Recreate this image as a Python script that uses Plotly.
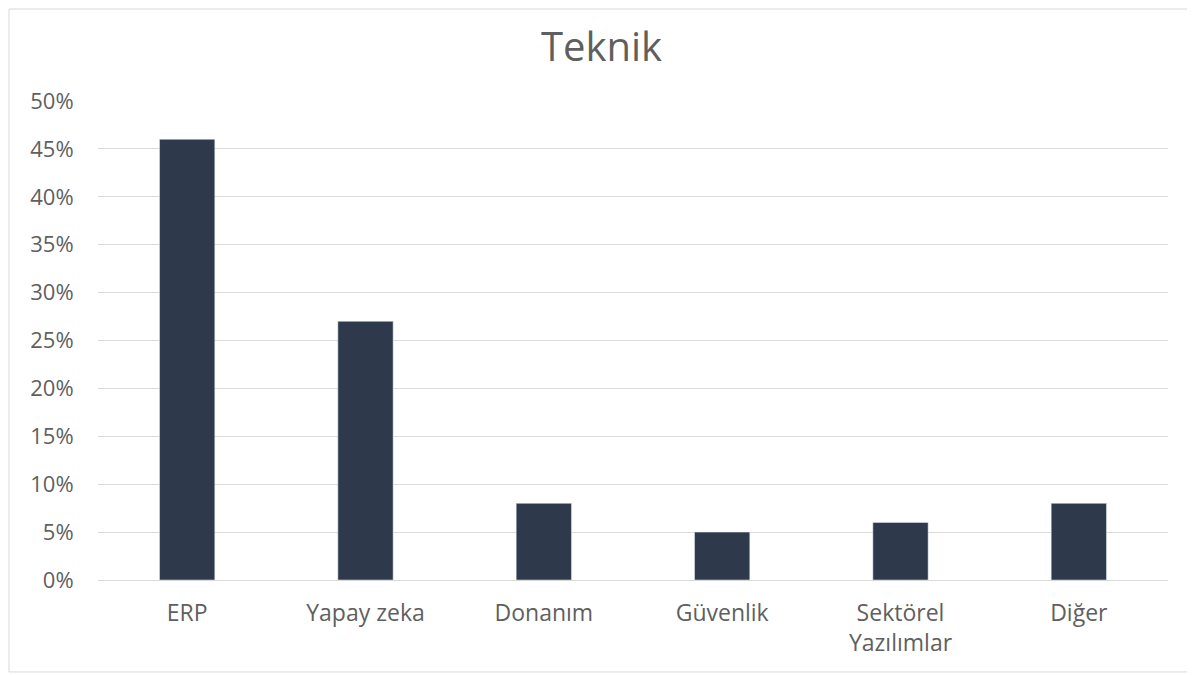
import plotly.graph_objects as go

categories = ["ERP", "Yapay zeka", "Donanım", "Güvenlik", "Sektörel<br>Yazılımlar", "Diğer"]
values = [0.46, 0.27, 0.08, 0.05, 0.06, 0.08]
tick_vals = [0, 0.05, 0.10, 0.15, 0.20, 0.25, 0.30, 0.35, 0.40, 0.45, 0.50]
tick_text = ["0%", "5%", "10%", "15%", "20%", "25%", "30%", "35%", "40%", "45%", "50%"]

fig = go.Figure(go.Bar(x=categories, y=values, marker_color="#2e3a4b", width=0.31))

fig.update_layout(
    width=1187, height=667,
    paper_bgcolor="white", plot_bgcolor="white",
    margin=dict(l=90, r=27, t=93, b=95),
    font=dict(family="Open Sans", color="#5f5f5f"),
    title=dict(text="Teknik", x=0.5, xanchor="center", y=0.9415, yanchor="middle",
               font=dict(size=40, color="#5f5f5f")),
    showlegend=False,
    bargap=0.69,
    xaxis=dict(showgrid=False, showline=True, linecolor="#d9d9d9", linewidth=1,
               ticks="outside", ticklen=12, tickcolor="rgba(0,0,0,0)",
               tickfont=dict(size=23, color="#5f5f5f")),
    yaxis=dict(range=[0, 0.5], tickvals=tick_vals, ticktext=tick_text,
               showgrid=True, gridcolor="#d9d9d9", gridwidth=1, zeroline=False,
               ticks="outside", ticklen=19, tickcolor="rgba(0,0,0,0)",
               tickfont=dict(size=22, color="#5f5f5f")),
    shapes=[dict(type="rect", xref="paper", yref="paper",
                 x0=-0.0832, x1=1.0187, y0=-0.192, y1=1.192,
                 line=dict(color="#d9d9d9", width=1), fillcolor="rgba(0,0,0,0)", layer="below")],
)

fig.write_html("out.html")
